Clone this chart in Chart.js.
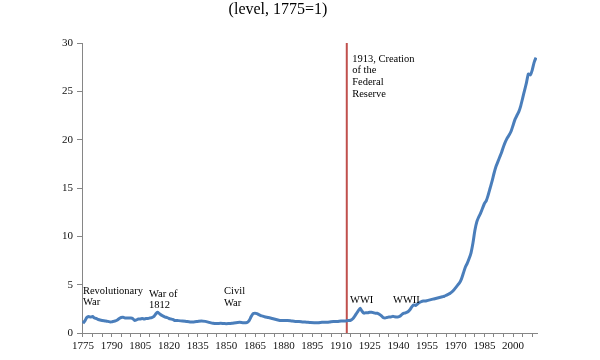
<!DOCTYPE html>
<html>
<head>
<meta charset="utf-8">
<script src="https://cdn.jsdelivr.net/npm/chart.js@4.4.1/dist/chart.umd.min.js"></script>
<style>
  html, body { margin: 0; padding: 0; background: #ffffff; }
  #wrap { width: 600px; height: 360px; }
</style>
</head>
<body>
<div id="wrap"><canvas id="c" width="600" height="360"></canvas></div>
<script>
const titleText = '(level, 1775=1)';

const years = [
  1775,1776,1777,1778,1779,1780,1781,1782,1783,1785,1787,1789,1790,1791,1792,1793,1794,1795,1796,1797,
  1798,1799,1800,1801,1802,1803,1804,1805,1806,1807,1808,1809,1810,1811,1812,1813,1814,1815,1816,1817,
  1818,1819,1820,1821,1822,1823,1825,1827,1829,1831,1833,1835,1837,1839,1841,1843,1845,1847,1849,1851,
  1853,1855,1857,1859,1861,1862,1863,1864,1865,1866,1867,1868,1869,1870,1872,1874,1876,1878,1880,1882,
  1884,1886,1888,1890,1892,1894,1896,1898,1900,1902,1904,1906,1908,1910,1912,1913,1914,1915,1916,1917,
  1918,1919,1920,1921,1922,1923,1924,1925,1926,1927,1928,1929,1930,1931,1932,1933,1934,1935,1936,1937,
  1938,1939,1940,1941,1942,1943,1944,1945,1946,1947,1948,1949,1950,1951,1952,1953,1954,1955,1956,1957,
  1958,1959,1960,1961,1962,1963,1964,1965,1966,1967,1968,1969,1970,1971,1972,1973,1974,1975,1976,1977,
  1978,1979,1980,1981,1982,1983,1984,1985,1986,1987,1988,1989,1990,1991,1992,1993,1994,1995,1996,1997,
  1998,1999,2000,2001,2002,2003,2004,2005,2006,2007,2008,2009,2010,2011,2012
];

const priceLevel = [
  1.00,1.25,1.60,1.70,1.65,1.70,1.55,1.50,1.40,1.30,1.25,1.15,1.15,1.20,1.25,1.35,1.50,1.60,1.62,1.55,
  1.55,1.55,1.55,1.50,1.30,1.35,1.45,1.45,1.50,1.45,1.50,1.50,1.55,1.60,1.70,1.95,2.15,2.00,1.85,1.75,
  1.65,1.60,1.50,1.45,1.40,1.30,1.28,1.25,1.20,1.15,1.15,1.20,1.25,1.20,1.10,1.00,0.97,1.00,0.97,0.97,
  1.00,1.07,1.10,1.05,1.10,1.30,1.70,2.00,2.05,2.00,1.90,1.80,1.75,1.68,1.60,1.50,1.40,1.30,1.30,1.30,
  1.25,1.20,1.20,1.15,1.12,1.08,1.07,1.07,1.10,1.12,1.15,1.20,1.18,1.25,1.25,1.27,1.30,1.32,1.45,1.70,
  2.00,2.30,2.55,2.25,2.05,2.10,2.10,2.15,2.15,2.10,2.05,2.05,1.95,1.80,1.60,1.55,1.60,1.65,1.65,1.72,
  1.68,1.65,1.67,1.75,1.95,2.05,2.10,2.20,2.40,2.70,2.90,2.85,3.00,3.15,3.25,3.30,3.30,3.35,3.40,3.45,
  3.50,3.55,3.60,3.65,3.70,3.75,3.80,3.90,4.00,4.10,4.25,4.45,4.70,4.95,5.20,5.60,6.20,6.80,7.20,7.70,
  8.30,9.30,10.60,11.50,12.00,12.40,12.90,13.40,13.70,14.30,15.00,15.70,16.50,17.20,17.70,18.20,18.70,19.30,19.80,20.20,
  20.50,20.90,21.50,22.10,22.50,22.90,23.50,24.30,25.10,25.90,26.80,26.70,27.20,28.00,28.50
];

const xLabelYears = [1775,1790,1805,1820,1835,1850,1865,1880,1895,1910,1925,1940,1955,1970,1985,2000];
const yTickValues = [0,5,10,15,20,25,30];
const fedYear = 1913;

const annotations = [
  { lines: ['Revolutionary', 'War'], year: 1775, value: 4.35 },
  { lines: ['War of', '1812'], year: 1809.5, value: 4.05 },
  { lines: ['Civil', 'War'], year: 1848.8, value: 4.3 },
  { lines: ['WWI'], year: 1914.7, value: 3.4 },
  { lines: ['WWII'], year: 1937.2, value: 3.4 },
  { lines: ['1913, Creation', 'of the', 'Federal', 'Reserve'], year: 1915.8, value: 28.35 }
];

const serif = '"Liberation Serif", "Times New Roman", serif';

const annotationPlugin = {
  id: 'notes',
  afterDatasetsDraw(chart) {
    const { ctx, scales } = chart;
    ctx.save();
    ctx.font = '10.5px ' + serif;
    ctx.fillStyle = '#000000';
    ctx.textAlign = 'left';
    ctx.textBaseline = 'middle';
    annotations.forEach(a => {
      const px = scales.x.getPixelForValue(a.year);
      const py = scales.y.getPixelForValue(a.value);
      a.lines.forEach((t, i) => ctx.fillText(t, px, py + i * 11.7));
    });
    ctx.restore();
  },
  afterDraw(chart) {
    const { ctx } = chart;
    ctx.save();
    ctx.font = '16px ' + serif;
    ctx.fillStyle = '#000000';
    ctx.textAlign = 'center';
    ctx.textBaseline = 'middle';
    ctx.fillText(titleText, 278, 10);
    ctx.restore();
  }
};

new Chart(document.getElementById('c'), {
  type: 'line',
  data: {
    datasets: [
      {
        data: years.map((y, i) => ({ x: y, y: priceLevel[i] })),
        borderColor: '#4A7EBB',
        borderWidth: 3,
        pointRadius: 0,
        tension: 0.2,
        borderJoinStyle: 'round',
        fill: false
      },
      {
        data: [{ x: fedYear, y: yTickValues[0] }, { x: fedYear, y: yTickValues[yTickValues.length - 1] }],
        borderColor: '#C0504D',
        borderWidth: 2,
        pointRadius: 0,
        fill: false
      }
    ]
  },
  options: {
    responsive: false,
    animation: false,
    layout: { padding: { top: 43, right: 63, left: 0, bottom: 0 } },
    plugins: { legend: { display: false }, tooltip: { enabled: false }, title: { display: false } },
    scales: {
      x: {
        type: 'linear',
        min: 1774.5,
        max: 2012.5,
        afterBuildTicks(scale) {
          const t = [];
          for (let v = 1775; v <= 2010; v += 5) t.push({ value: v });
          scale.ticks = t;
        },
        afterFit(scale) { scale.height = 27; },
        grid: { drawOnChartArea: false, drawTicks: true, tickLength: 4, color: '#868686' },
        border: { color: '#868686', width: 1 },
        ticks: {
          autoSkip: false,
          maxRotation: 0,
          padding: 3,
          color: '#111111',
          font: { family: serif, size: 11 },
          callback: v => (xLabelYears.includes(v) ? String(v) : '')
        }
      },
      y: {
        min: 0,
        max: 30,
        afterBuildTicks(scale) { scale.ticks = yTickValues.map(v => ({ value: v })); },
        afterFit(scale) { scale.width = 82; },
        grid: { drawOnChartArea: false, drawTicks: true, tickLength: 5, color: '#868686' },
        border: { color: '#868686', width: 1 },
        ticks: { padding: 4, color: '#111111', font: { family: serif, size: 11 } }
      }
    }
  },
  plugins: [annotationPlugin]
});
</script>
</body>
</html>
